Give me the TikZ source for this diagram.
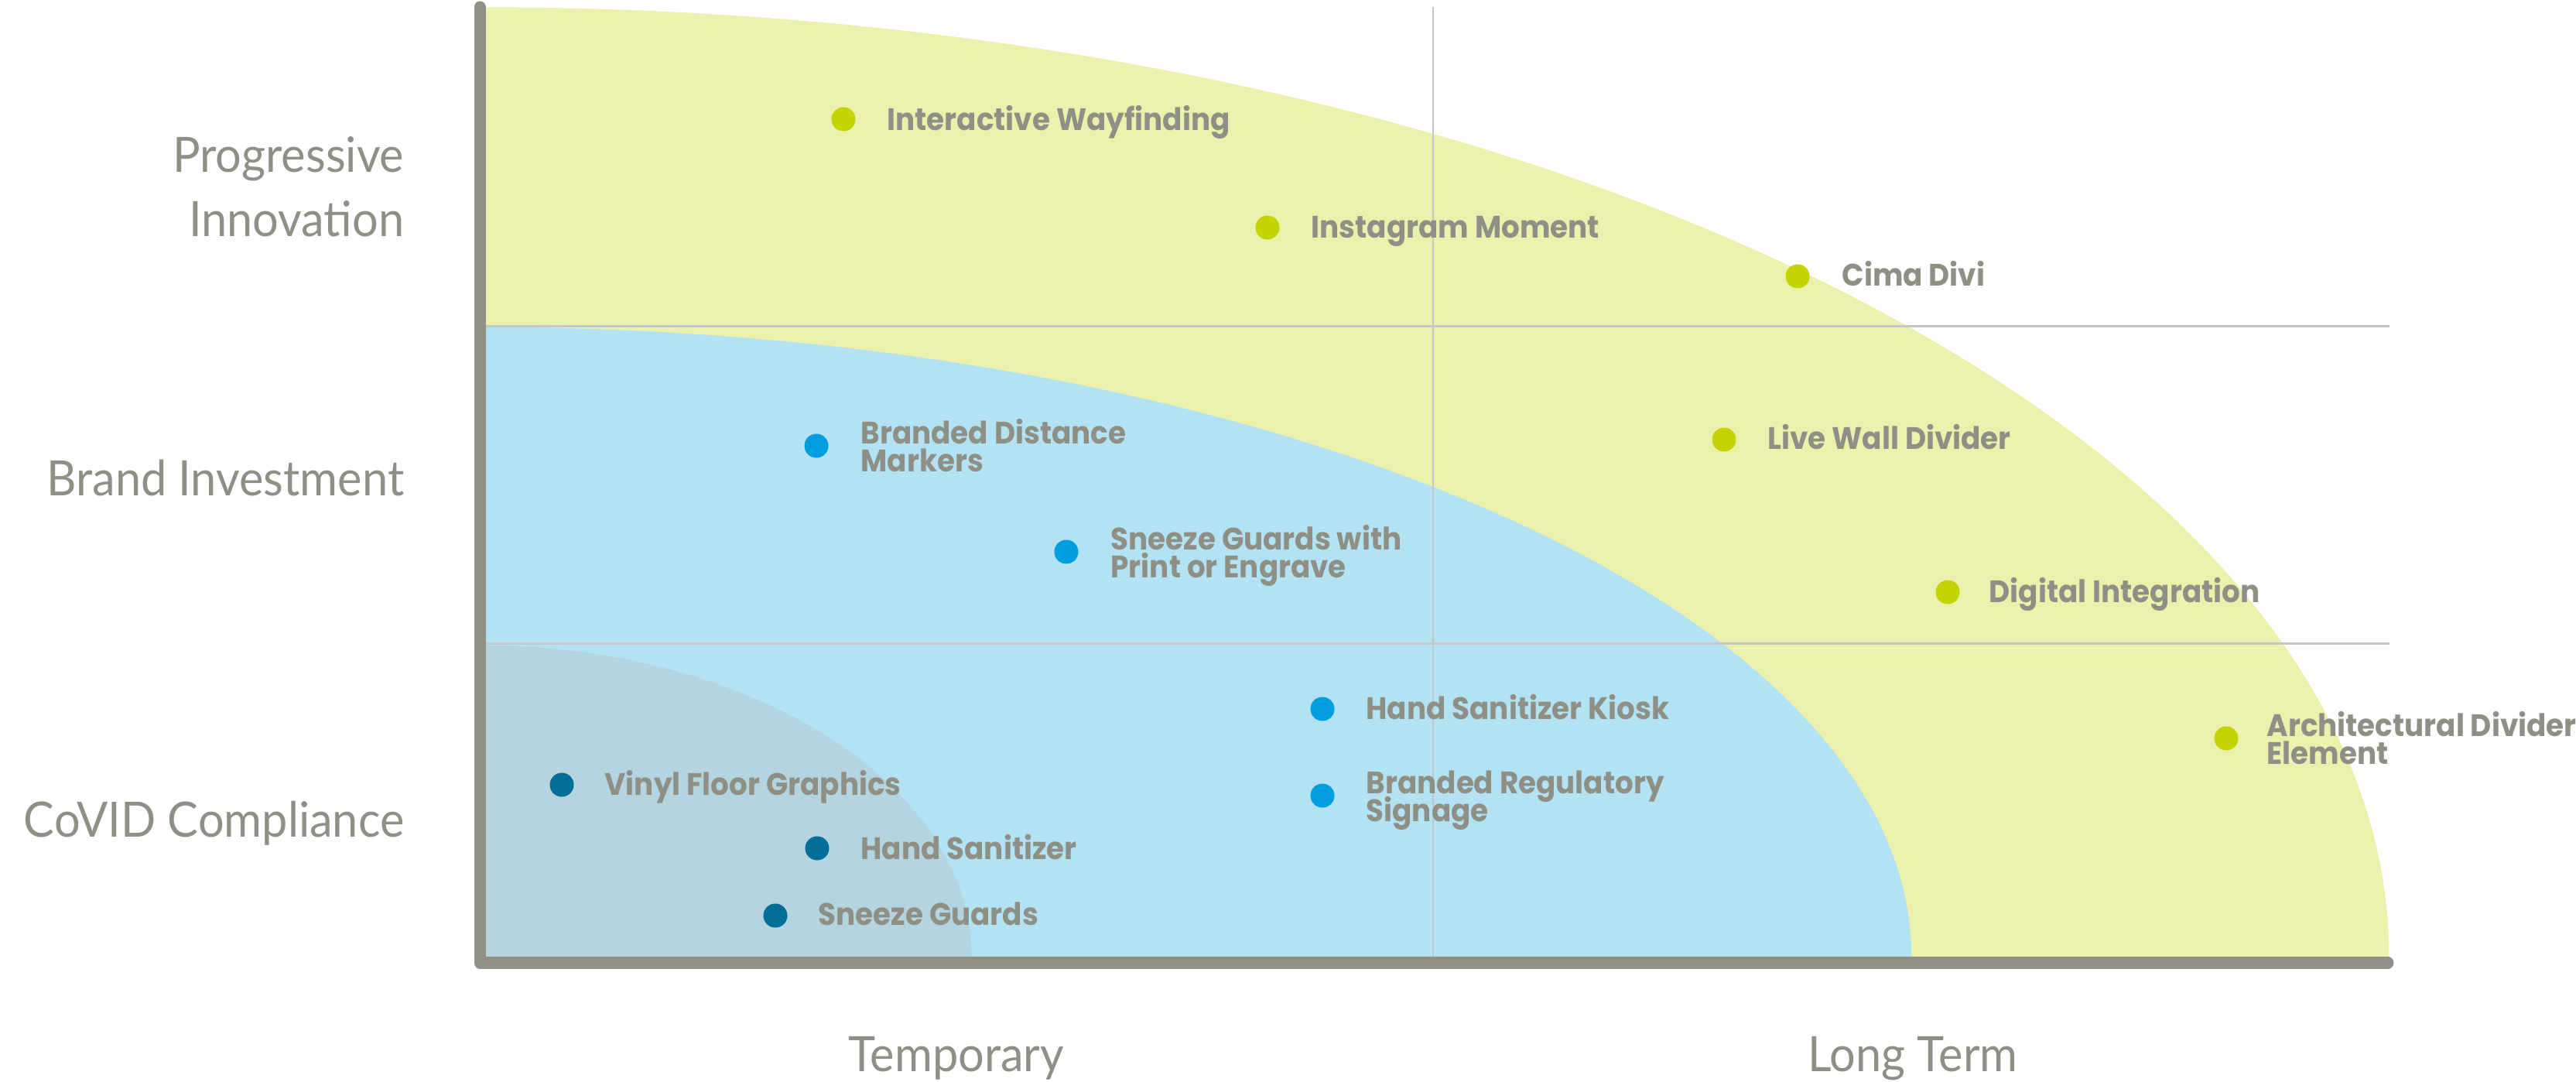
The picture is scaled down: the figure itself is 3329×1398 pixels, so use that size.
\documentclass[tikz,border=0pt]{standalone}
\usepackage{fontspec}
\newfontfamily\lblfont[FakeStretch=0.93]{Poppins}
\newfontfamily\axfont[FakeStretch=0.945]{Lato}
\definecolor{yel}{HTML}{EBF1AD}
\definecolor{blu}{HTML}{B3E2F3}
\definecolor{gry}{HTML}{B4D4DF}
\definecolor{dotlime}{HTML}{C5D400}
\definecolor{dotblue}{HTML}{009EE0}
\definecolor{dotdark}{HTML}{006E96}
\definecolor{txtgray}{HTML}{8E8F85}
\definecolor{axgray}{HTML}{909087}
\definecolor{gridgray}{HTML}{C4C7C9}
\begin{document}
\lineskiplimit=-\maxdimen
\begin{tikzpicture}[x=0.01cm,y=-0.01cm,
  dotmark/.style={circle,inner sep=0pt,minimum size=0.31cm},
  lbl/.style={anchor=base west,inner sep=0pt,text=txtgray,align=left,
    font={\lblfont\bfseries\fontsize{11.4}{10.5}\selectfont}},
  axlbl/.style={inner sep=0pt,text=txtgray,
    font={\axfont\fontsize{17.9}{23.6}\selectfont}},
  gridline/.style={draw=gridgray},
  axisline/.style={draw=axgray,line width=0.15cm,line cap=round,line join=round}]
\useasboundingbox (0,0) rectangle (3329,1398);
\begin{scope}
  \clip (620,0) rectangle (3329,1244);
  \fill[yel] (620,1236) ellipse [x radius=24.66cm, y radius=12.26cm];
  \fill[blu] (620,1236) ellipse [x radius=18.49cm, y radius=8.13cm];
  \fill[gry] (620,1236) ellipse [x radius=6.35cm, y radius=4.02cm];
\end{scope}
\draw[gridline,line width=0.03cm] (620,422) -- (3088,422);
\draw[gridline,line width=0.03cm] (620,832) -- (3088,832);
\draw[gridline,line width=0.015cm] (1852,9) -- (1852,1244);
\draw[axisline] (620,9) -- (620,1244) -- (3086,1244);
% axis labels
\node[axlbl,anchor=base east,align=right] (pi) at (523,306) {Progressive\\Innovation};
\node[axlbl,anchor=base east] (bi) at (523,641) {Brand Investment};
\node[axlbl,anchor=base east] (cc) at (523,1082) {CoVID Compliance};
\node[axlbl,anchor=base] (tmp) at (1236,1384) {Temporary};
\node[axlbl,anchor=base] (lt) at (2472,1384) {Long Term};
% progressive innovation items
\node[dotmark,fill=dotlime] (d1) at (1090,154) {};
\node[lbl] (t1) at (1146,169) {Interactive Wayfinding};
\node[dotmark,fill=dotlime] (d2) at (1638,294) {};
\node[lbl] (t2) at (1694,308) {Instagram Moment};
\node[dotmark,fill=dotlime] (d3) at (2323,357) {};
\node[lbl] (t3) at (2380,370) {Cima Divi};
\node[dotmark,fill=dotlime] (d4) at (2228,568) {};
\node[lbl] (t4) at (2284,581) {Live Wall Divider};
\node[dotmark,fill=dotlime] (d5) at (2517,765) {};
\node[lbl] (t5) at (2570,779) {Digital Integration};
\node[dotmark,fill=dotlime] (d6) at (2877,954) {};
\node[lbl] (t6) at (2929,988) {Architectural Divider\\Element};
% brand investment items
\node[dotmark,fill=dotblue] (d7) at (1055,576) {};
\node[lbl] (t7) at (1112,610) {Branded Distance\\Markers};
\node[dotmark,fill=dotblue] (d8) at (1378,713) {};
\node[lbl] (t8) at (1435,747) {Sneeze Guards with\\Print or Engrave};
\node[dotmark,fill=dotblue] (d9) at (1709,916) {};
\node[lbl] (t9) at (1765,930) {Hand Sanitizer Kiosk};
\node[dotmark,fill=dotblue] (d10) at (1709,1028) {};
\node[lbl] (t10) at (1765,1062) {Branded Regulatory\\Signage};
% covid compliance items
\node[dotmark,fill=dotdark] (d11) at (726,1014) {};
\node[lbl] (t11) at (781,1028) {Vinyl Floor Graphics};
\node[dotmark,fill=dotdark] (d12) at (1056,1096) {};
\node[lbl] (t12) at (1112,1111) {Hand Sanitizer};
\node[dotmark,fill=dotdark] (d13) at (1002,1183) {};
\node[lbl] (t13) at (1057,1196) {Sneeze Guards};
\end{tikzpicture}
\end{document}
